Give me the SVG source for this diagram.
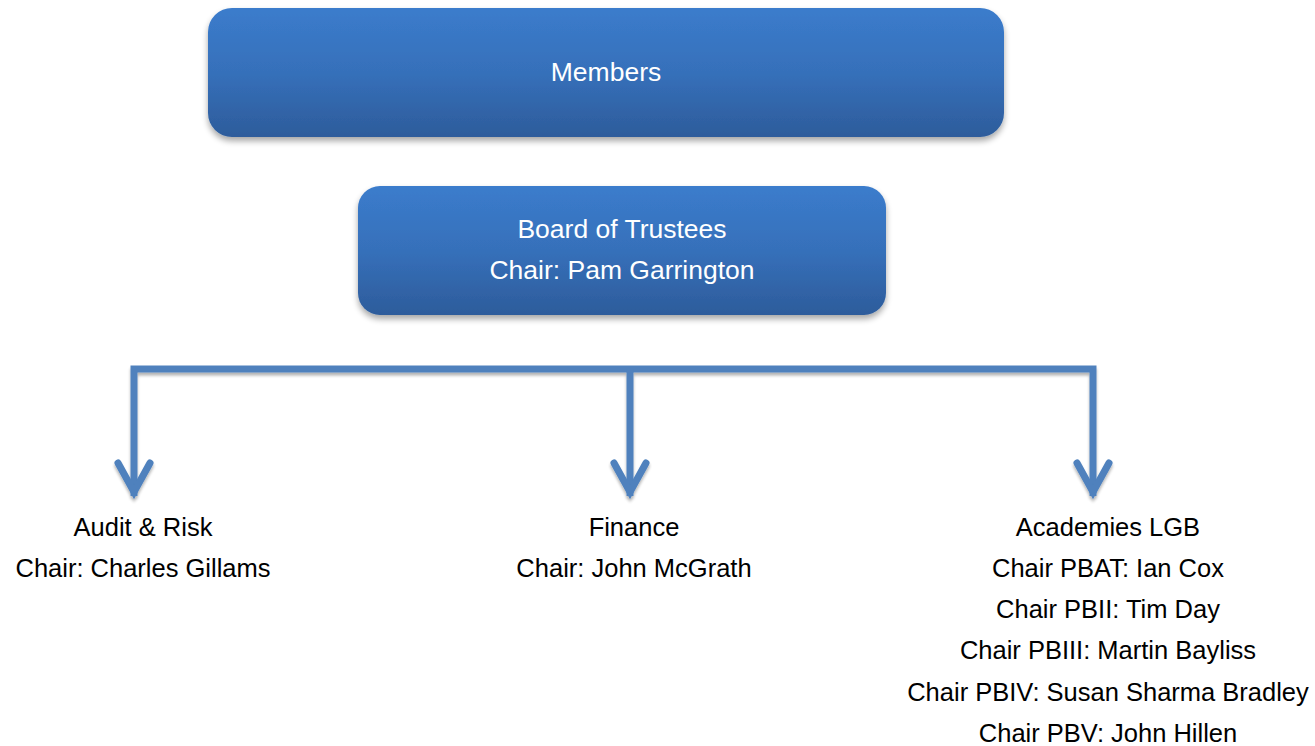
<svg xmlns="http://www.w3.org/2000/svg" width="1315" height="746" viewBox="0 0 1315 746">
<style>
.box-text{font-family:"Liberation Sans",Arial,sans-serif;font-size:26.5px;fill:#ffffff;text-anchor:middle}
.label{font-family:"Liberation Sans",Arial,sans-serif;font-size:25.5px;fill:#000000;text-anchor:middle}
.conn{fill:none;stroke:#4F81BD;stroke-width:7;stroke-linejoin:miter}
.head{fill:none;stroke:#4F81BD;stroke-width:7;stroke-linecap:round;stroke-linejoin:miter}
</style>
<defs>
<linearGradient id="blueGrad" x1="0" y1="0" x2="0" y2="1">
<stop offset="0" stop-color="#3B7CCC"/>
<stop offset="0.5" stop-color="#3670BA"/>
<stop offset="1" stop-color="#2D5C9B"/>
</linearGradient>
<filter id="shadow" x="-5%" y="-10%" width="110%" height="130%">
<feGaussianBlur in="SourceAlpha" stdDeviation="3"/>
<feOffset dx="0" dy="4" result="b"/>
<feComponentTransfer><feFuncA type="linear" slope="0.35"/></feComponentTransfer>
<feMerge><feMergeNode/><feMergeNode in="SourceGraphic"/></feMerge>
</filter>
<filter id="lshadow" x="-5%" y="-20%" width="110%" height="140%">
<feGaussianBlur in="SourceAlpha" stdDeviation="1.5"/>
<feOffset dx="0" dy="3" result="b"/>
<feComponentTransfer><feFuncA type="linear" slope="0.3"/></feComponentTransfer>
<feMerge><feMergeNode/><feMergeNode in="SourceGraphic"/></feMerge>
</filter>
</defs>
<rect width="1315" height="746" fill="#ffffff"/>
<g id="members">
<rect x="208" y="8" width="796" height="129" rx="24" fill="url(#blueGrad)" filter="url(#shadow)"/>
<text class="box-text" x="606" y="81">Members</text>
</g>
<g id="board">
<rect x="358" y="186" width="528" height="129" rx="22" fill="url(#blueGrad)" filter="url(#shadow)"/>
<text class="box-text" x="622" y="238">Board of Trustees</text>
<text class="box-text" x="622" y="279">Chair: Pam Garrington</text>
</g>
<g id="connectors" filter="url(#lshadow)">
<path class="conn" d="M134,496 V369 H1093 V496"/>
<path class="conn" d="M630,369 V496"/>
<path class="head" d="M118,463 L134,492 L150,463"/>
<path class="head" d="M614,463 L630,492 L646,463"/>
<path class="head" d="M1077,463 L1093,492 L1109,463"/>
</g>
<g id="audit">
<text class="label" x="143" y="536">Audit &amp; Risk</text>
<text class="label" x="143" y="577">Chair: Charles Gillams</text>
</g>
<g id="finance">
<text class="label" x="634" y="536">Finance</text>
<text class="label" x="634" y="577">Chair: John McGrath</text>
</g>
<g id="academies">
<text class="label" x="1108" y="536">Academies LGB</text>
<text class="label" x="1108" y="577">Chair PBAT: Ian Cox</text>
<text class="label" x="1108" y="618">Chair PBII: Tim Day</text>
<text class="label" x="1108" y="659">Chair PBIII: Martin Bayliss</text>
<text class="label" x="1108" y="701">Chair PBIV: Susan Sharma Bradley</text>
<text class="label" x="1108" y="742">Chair PBV: John Hillen</text>
</g>
</svg>
